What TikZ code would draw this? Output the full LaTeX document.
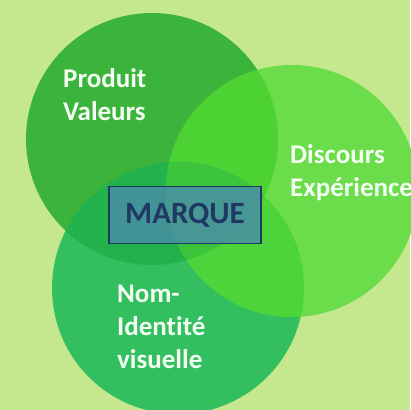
\documentclass[tikz,border=0pt]{standalone}
\usepackage{fontspec}
\setmainfont{Carlito}[Ligatures=CommonOff]
\begin{document}
\begin{tikzpicture}[x=1pt,y=1pt,
  lbl/.style={text=white!95!green, font=\bfseries\fontsize{27}{33}\selectfont, align=left, anchor=north west, inner sep=0pt},
  marquebox/.style={draw=navyc, line width=1.8pt, fill=boxc, fill opacity=0.8, text opacity=1, minimum width=152pt, minimum height=57pt, text=navyc, font=\bfseries\fontsize{31}{31}\selectfont}]
\definecolor{bgc}{RGB}{197,232,143}
\definecolor{ca}{RGB}{60,180,60}
\definecolor{cb}{RGB}{107,220,74}
\definecolor{cc}{RGB}{51,190,95}
\definecolor{cab}{RGB}{76,210,50}
\definecolor{cac}{RGB}{34,177,74}
\definecolor{cbc}{RGB}{76,212,58}
\definecolor{cabc}{RGB}{60,196,60}
\definecolor{navyc}{RGB}{31,56,100}
\definecolor{boxc}{RGB}{74,140,170}
\fill[bgc] (0,0) rectangle (410,410);
\useasboundingbox (0,0) rectangle (410,410);
\coordinate (A) at (152,271);
\coordinate (B) at (292,219);
\coordinate (C) at (178,122);
\def\R{126}
\fill[ca] (A) circle (\R);
\fill[cc] (C) circle (\R);
\fill[cb] (B) circle (\R);
\begin{scope}\clip (A) circle (\R); \fill[cab] (B) circle (\R); \end{scope}
\begin{scope}\clip (A) circle (\R); \fill[cac] (C) circle (\R); \end{scope}
\begin{scope}\clip (B) circle (\R); \fill[cbc] (C) circle (\R); \end{scope}
\begin{scope}\clip (A) circle (\R); \clip (B) circle (\R); \fill[cabc] (C) circle (\R); \end{scope}
\node[lbl] (p) at (63,342) {Produit\\Valeurs};
\node[lbl] (d) at (290,266) {Discours\\Expérience};
\node[lbl] (n) at (117,125) {Nom-\\Identité\\visuelle};
\node[marquebox] (m) at (185,195) {MARQUE};
\end{tikzpicture}
\end{document}
